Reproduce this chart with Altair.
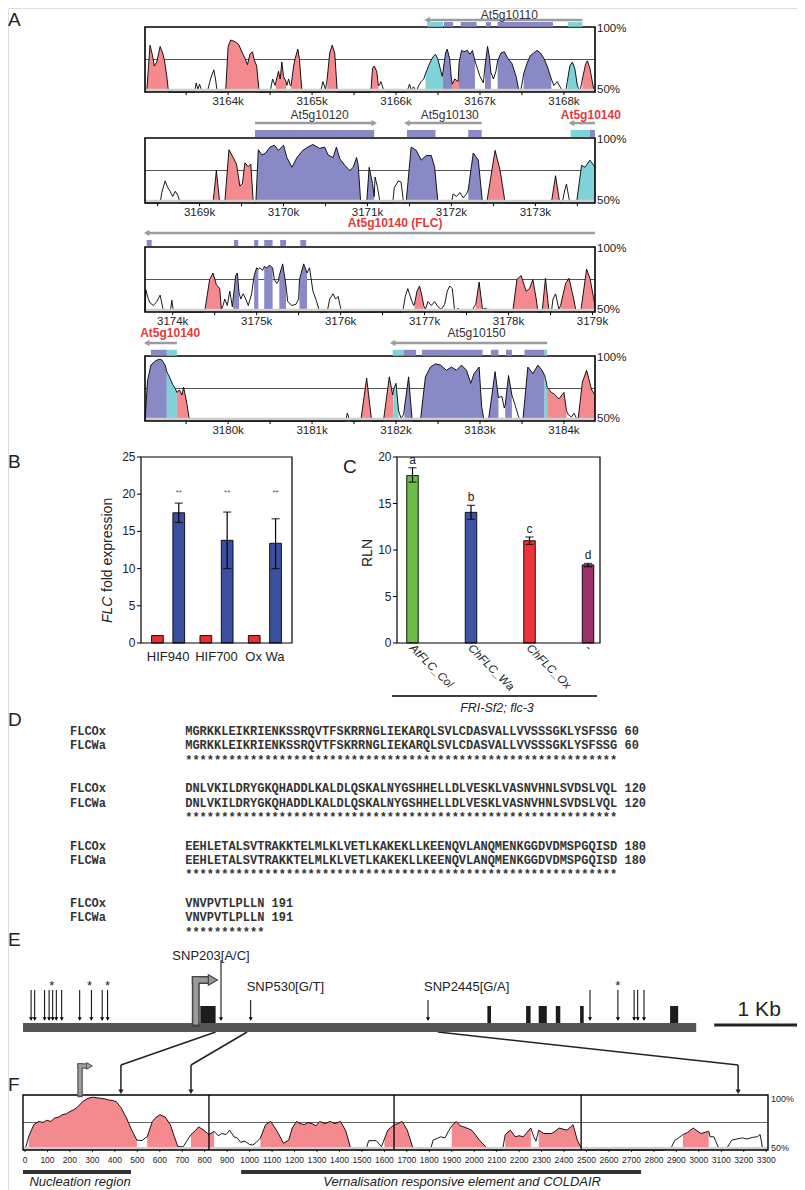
import altair as alt
import pandas as pd
import numpy as np

OX, OY = 8, 8
W, H = 789, 1182
SANS = "Liberation Sans"
NARROW = "Liberation Sans Narrow, Liberation Sans"
MONO = "Liberation Mono"
PINK, BLUE, CYAN = "#F48A8D", "#8989C6", "#7FD3D8"
FILL = {"p": PINK, "b": BLUE, "c": CYAN}
HILITE = "#E4393D"
GENE_GRAY = "#9c9c9c"

# ---------------- Panel A data (kb position, % identity, region class) ----------------
T1_PTS = [
    (3163.01, 50, "n"), (3163.03, 50, "p"), (3163.07, 86, "p"), (3163.10, 78, "p"), (3163.12, 70, "p"), (3163.15, 73, "p"),
    (3163.19, 85, "p"), (3163.22, 80, "p"), (3163.24, 75, "p"), (3163.27, 62, "p"), (3163.29, 50, "p"),
    (3163.60, 50, "n"), (3163.62, 57, "n"), (3163.64, 52, "n"), (3163.66, 56, "n"), (3163.69, 50, "n"), (3163.76, 52, "n"),
    (3163.79, 60, "n"), (3163.83, 67, "n"), (3163.85, 60, "n"), (3163.87, 50, "n"),
    (3163.96, 50, "n"), (3163.97, 50, "p"), (3164.00, 85, "p"), (3164.03, 90, "p"), (3164.07, 89, "p"), (3164.10, 88, "p"),
    (3164.13, 86, "p"), (3164.17, 80, "p"), (3164.20, 76, "p"), (3164.23, 71, "p"), (3164.26, 79, "p"), (3164.29, 81, "p"),
    (3164.31, 75, "p"), (3164.34, 70, "p"), (3164.37, 50, "p"),
    (3164.50, 50, "n"), (3164.53, 60, "n"), (3164.56, 55, "n"), (3164.57, 58, "p"), (3164.60, 66, "p"), (3164.62, 60, "p"),
    (3164.64, 73, "p"), (3164.66, 62, "p"), (3164.69, 58, "p"), (3164.70, 55, "n"), (3164.72, 60, "n"), (3164.74, 55, "n"),
    (3164.75, 55, "p"), (3164.78, 70, "p"), (3164.80, 76, "p"), (3164.83, 83, "p"), (3164.85, 75, "p"), (3164.88, 50, "p"),
    (3165.10, 50, "n"), (3165.13, 58, "n"), (3165.16, 52, "n"), (3165.18, 60, "p"), (3165.21, 80, "p"), (3165.24, 86, "p"),
    (3165.27, 80, "p"), (3165.30, 50, "p"),
    (3165.69, 50, "n"), (3165.70, 50, "p"), (3165.72, 68, "p"), (3165.74, 70, "p"), (3165.77, 66, "p"), (3165.79, 55, "p"),
    (3165.80, 55, "n"), (3165.82, 58, "n"), (3165.85, 52, "n"), (3165.88, 50, "n"),
    (3166.13, 50, "n"), (3166.16, 56, "n"), (3166.18, 52, "n"), (3166.21, 54, "n"), (3166.24, 50, "n"), (3166.27, 55, "n"),
    (3166.30, 58, "n"), (3166.33, 60, "n"),
    (3166.35, 64, "c"), (3166.40, 72, "c"), (3166.44, 77, "c"), (3166.47, 79, "c"), (3166.50, 75, "c"), (3166.55, 62, "c"),
    (3166.56, 66, "b"), (3166.59, 80, "b"), (3166.61, 83, "b"), (3166.64, 75, "b"), (3166.66, 60, "b"),
    (3166.67, 56, "p"), (3166.70, 60, "p"), (3166.74, 58, "p"),
    (3166.75, 72, "b"), (3166.78, 82, "b"), (3166.81, 81, "b"), (3166.85, 82, "b"), (3166.88, 79, "b"), (3166.91, 82, "b"),
    (3166.94, 74, "b"),
    (3166.96, 70, "n"), (3167.00, 62, "n"), (3167.04, 57, "n"),
    (3167.06, 70, "b"), (3167.09, 85, "b"), (3167.11, 78, "b"), (3167.13, 65, "b"),
    (3167.16, 60, "n"), (3167.19, 66, "n"),
    (3167.21, 74, "b"), (3167.25, 80, "b"), (3167.29, 81, "b"), (3167.33, 76, "b"), (3167.38, 72, "b"), (3167.43, 62, "b"),
    (3167.46, 52, "b"),
    (3167.48, 50, "n"), (3167.50, 56, "n"),
    (3167.52, 64, "b"), (3167.56, 72, "b"), (3167.60, 78, "b"), (3167.64, 80, "b"), (3167.68, 82, "b"), (3167.72, 80, "b"),
    (3167.76, 76, "b"), (3167.80, 70, "b"), (3167.85, 60, "b"),
    (3167.88, 55, "n"), (3167.92, 58, "n"), (3167.97, 52, "n"), (3168.02, 50, "n"),
    (3168.04, 58, "c"), (3168.07, 70, "c"), (3168.10, 73, "c"), (3168.13, 68, "c"), (3168.16, 55, "c"),
    (3168.19, 50, "n"),
    (3168.22, 60, "p"), (3168.26, 72, "p"), (3168.28, 74, "p"), (3168.31, 68, "p"), (3168.36, 50, "p"),
]
T2_PTS = [
    (3168.35, 50, "n"), (3168.53, 50, "n"), (3168.55, 58, "n"), (3168.59, 67, "n"), (3168.62, 62, "n"), (3168.65, 59, "n"),
    (3168.68, 55, "n"), (3168.71, 59, "n"), (3168.74, 56, "n"), (3168.77, 50, "n"),
    (3169.15, 50, "n"), (3169.16, 50, "p"), (3169.20, 75, "p"), (3169.24, 50, "p"),
    (3169.29, 50, "n"), (3169.30, 50, "p"), (3169.35, 91, "p"), (3169.40, 85, "p"), (3169.44, 80, "p"), (3169.48, 63, "p"),
    (3169.51, 65, "p"), (3169.54, 81, "p"), (3169.58, 78, "p"), (3169.61, 80, "p"), (3169.64, 50, "p"),
    (3169.66, 50, "n"), (3169.67, 50, "b"), (3169.70, 91, "b"), (3169.74, 87, "b"), (3169.78, 88, "b"), (3169.84, 93, "b"),
    (3169.89, 94.5, "b"), (3169.94, 90.5, "b"), (3170.00, 94.5, "b"), (3170.04, 85, "b"), (3170.10, 77.5, "b"),
    (3170.16, 85, "b"), (3170.23, 90.5, "b"), (3170.29, 93, "b"), (3170.35, 95, "b"), (3170.43, 92, "b"), (3170.49, 93, "b"),
    (3170.53, 87, "b"), (3170.59, 85, "b"), (3170.63, 93, "b"), (3170.67, 84, "b"), (3170.73, 79, "b"), (3170.79, 75, "b"),
    (3170.83, 77.5, "b"), (3170.87, 85, "b"), (3170.89, 79, "b"), (3170.92, 50, "b"),
    (3170.97, 50, "n"), (3170.99, 50, "b"), (3171.02, 77.5, "b"), (3171.06, 65, "b"), (3171.08, 55, "b"),
    (3171.09, 70, "n"), (3171.12, 62, "n"), (3171.15, 50, "n"),
    (3171.30, 50, "n"), (3171.32, 62, "n"), (3171.37, 67, "n"), (3171.40, 66, "n"), (3171.43, 50, "n"),
    (3171.45, 50, "n"), (3171.46, 50, "b"), (3171.52, 93, "b"), (3171.58, 90.5, "b"), (3171.64, 83, "b"), (3171.70, 86.5, "b"),
    (3171.76, 86.5, "b"), (3171.80, 77.5, "b"), (3171.84, 50, "b"),
    (3172.00, 50, "n"), (3172.02, 57, "n"), (3172.06, 55, "n"), (3172.10, 58, "n"), (3172.14, 54, "n"), (3172.18, 57, "n"),
    (3172.20, 60, "b"), (3172.26, 88.5, "b"), (3172.32, 83, "b"), (3172.37, 50, "b"),
    (3172.41, 50, "n"), (3172.42, 50, "p"), (3172.52, 90.5, "p"), (3172.58, 75, "p"), (3172.64, 50, "p"),
    (3173.18, 50, "n"), (3173.19, 50, "p"), (3173.24, 71, "p"), (3173.29, 50, "p"),
    (3173.32, 50, "n"), (3173.35, 60, "n"), (3173.37, 64.5, "n"), (3173.41, 50, "n"),
    (3173.48, 50, "n"), (3173.49, 50, "c"), (3173.55, 79, "c"), (3173.59, 77.5, "c"), (3173.65, 83, "c"), (3173.71, 77.5, "c"),
]
T3_PTS = [
    (3173.67, 50, "n"), (3173.68, 67, "n"), (3173.71, 60, "n"), (3173.73, 57, "n"), (3173.77, 55, "n"), (3173.81, 58, "n"),
    (3173.85, 63, "n"), (3173.87, 57, "n"), (3173.89, 50, "n"), (3173.97, 50, "n"), (3173.99, 59, "n"), (3174.01, 50, "n"),
    (3174.37, 50, "n"), (3174.38, 50, "p"), (3174.44, 75, "p"), (3174.48, 80, "p"), (3174.52, 71, "p"), (3174.56, 68, "p"),
    (3174.58, 52, "p"),
    (3174.60, 55, "n"), (3174.62, 60, "n"), (3174.65, 55, "n"), (3174.68, 66, "n"), (3174.71, 54, "n"),
    (3174.72, 60, "b"), (3174.75, 78, "b"), (3174.77, 80, "b"), (3174.79, 65, "b"),
    (3174.81, 60, "n"), (3174.84, 64, "n"), (3174.87, 60, "n"), (3174.90, 55, "n"), (3174.94, 64, "n"),
    (3174.97, 78, "b"), (3175.00, 84, "b"), (3175.02, 83, "b"),
    (3175.04, 84, "n"), (3175.07, 82, "n"),
    (3175.09, 85, "b"), (3175.12, 84, "b"), (3175.15, 86, "b"), (3175.19, 84, "b"),
    (3175.21, 75, "n"), (3175.24, 72, "n"), (3175.26, 74, "n"),
    (3175.27, 78, "b"), (3175.31, 87, "b"), (3175.35, 70, "b"),
    (3175.37, 58, "n"), (3175.42, 55, "n"), (3175.47, 56, "n"), (3175.50, 60, "n"),
    (3175.51, 75, "b"), (3175.56, 87, "b"), (3175.60, 80, "b"),
    (3175.63, 84, "n"), (3175.67, 66, "n"), (3175.71, 59, "n"), (3175.75, 50, "n"),
    (3175.84, 50, "n"), (3175.87, 60, "n"), (3175.91, 64, "n"), (3175.94, 60, "n"), (3175.97, 62, "n"), (3176.01, 50, "n"),
    (3176.74, 50, "n"), (3176.77, 62, "n"), (3176.80, 68, "n"), (3176.84, 60, "n"), (3176.87, 55, "n"),
    (3176.88, 56, "p"), (3176.91, 66, "p"), (3176.94, 70, "p"), (3176.97, 62, "p"), (3176.99, 55, "p"),
    (3177.01, 52, "n"), (3177.04, 58, "n"), (3177.08, 55, "n"), (3177.12, 58, "n"), (3177.16, 54, "n"), (3177.20, 52, "n"),
    (3177.24, 56, "n"), (3177.27, 66, "n"), (3177.30, 70, "n"), (3177.33, 68, "n"), (3177.36, 50, "n"), (3177.40, 53, "n"),
    (3177.42, 50, "n"),
    (3177.56, 50, "n"), (3177.59, 54, "n"), (3177.61, 56, "p"), (3177.65, 73, "p"), (3177.69, 52, "p"), (3177.72, 53, "n"),
    (3177.78, 51, "n"), (3177.86, 50, "n"),
    (3178.04, 50, "n"), (3178.05, 50, "p"), (3178.10, 75, "p"), (3178.15, 78, "p"), (3178.21, 66, "p"), (3178.25, 68, "p"),
    (3178.29, 75, "p"), (3178.33, 60, "p"), (3178.35, 50, "p"),
    (3178.39, 50, "n"), (3178.40, 50, "p"), (3178.44, 76, "p"), (3178.48, 52, "p"),
    (3178.51, 50, "n"), (3178.53, 60, "n"), (3178.56, 64, "n"), (3178.60, 52, "n"),
    (3178.62, 55, "p"), (3178.68, 72, "p"), (3178.72, 76, "p"), (3178.77, 62, "p"), (3178.80, 52, "p"),
    (3178.83, 50, "n"), (3178.86, 50, "n"),
    (3178.87, 55, "p"), (3178.93, 83, "p"), (3178.97, 76, "p"), (3179.01, 62, "p"), (3179.03, 55, "p"),
]
T4_PTS = [
    (3179.01, 50, "n"), (3179.02, 60, "b"), (3179.04, 81, "b"), (3179.08, 93, "b"), (3179.14, 96.5, "b"), (3179.18, 97.5, "b"),
    (3179.21, 97, "b"), (3179.25, 93, "b"),
    (3179.27, 88, "c"), (3179.30, 84, "c"), (3179.34, 78, "c"), (3179.37, 75, "c"),
    (3179.39, 72, "p"), (3179.42, 74, "p"), (3179.45, 70, "p"), (3179.47, 76, "p"), (3179.51, 63, "p"), (3179.54, 50, "p"),
    (3181.40, 50, "n"), (3181.42, 56, "n"), (3181.44, 52, "n"), (3181.46, 50, "n"),
    (3181.57, 50, "n"), (3181.58, 50, "p"), (3181.65, 83, "p"), (3181.71, 50, "p"),
    (3181.84, 50, "n"), (3181.85, 50, "p"), (3181.92, 84, "p"), (3181.96, 70, "p"),
    (3181.97, 74, "c"), (3182.00, 79, "c"), (3182.03, 58, "c"),
    (3182.06, 52, "n"), (3182.09, 55, "n"),
    (3182.10, 60, "b"), (3182.15, 84, "b"), (3182.19, 52, "b"),
    (3182.20, 50, "n"), (3182.28, 50, "n"),
    (3182.29, 50, "b"), (3182.35, 84, "b"), (3182.41, 91.5, "b"), (3182.47, 94, "b"), (3182.53, 93, "b"), (3182.60, 89, "b"),
    (3182.66, 91.5, "b"), (3182.72, 89, "b"), (3182.78, 93, "b"), (3182.84, 89, "b"), (3182.89, 79, "b"), (3182.93, 86.5, "b"),
    (3182.99, 91.5, "b"), (3183.02, 61, "b"), (3183.05, 50, "b"),
    (3183.09, 50, "n"), (3183.10, 50, "b"), (3183.18, 88, "b"), (3183.22, 68, "b"),
    (3183.26, 69, "n"), (3183.29, 60, "n"),
    (3183.30, 62, "b"), (3183.34, 85, "b"), (3183.38, 70, "b"),
    (3183.42, 62, "n"), (3183.46, 53, "n"), (3183.50, 50, "n"),
    (3183.51, 50, "b"), (3183.57, 91.5, "b"), (3183.63, 86.5, "b"), (3183.69, 93, "b"), (3183.74, 89, "b"),
    (3183.77, 85, "c"), (3183.79, 80, "c"),
    (3183.80, 76, "p"), (3183.85, 72, "p"), (3183.88, 71, "p"), (3183.94, 67, "p"), (3184.00, 72, "p"), (3184.03, 58, "p"),
    (3184.05, 55, "n"), (3184.09, 53, "n"), (3184.12, 56, "n"), (3184.15, 52, "n"),
    (3184.17, 52, "p"), (3184.22, 80, "p"), (3184.27, 89, "p"), (3184.33, 74, "p"), (3184.37, 70, "p"),
]
TRACK_RANGES = [(3163.01, 3168.37), (3168.35, 3173.71), (3173.67, 3179.03), (3179.01, 3184.37)]
T1_TICKS = [3164, 3165, 3166, 3167, 3168]
T2_TICKS = [3169, 3170, 3171, 3172, 3173]
T3_TICKS = [3174, 3175, 3176, 3177, 3178, 3179]
T4_TICKS = [3180, 3181, 3182, 3183, 3184]
# genes: name, start, end, direction, label position
T1_GENES = [("At5g10110", 3166.37, 3168.22, -1, 3167.35)]
T2_GENES = [("At5g10120", 3169.66, 3171.08, 1, 3170.43), ("At5g10130", 3171.47, 3172.36, -1, 3171.98),
            ("At5g10140", 3173.43, 3173.71, -1, 3173.66)]
T3_GENES = [("At5g10140 (FLC)", 3173.69, 3179.03, -1, 3176.65)]
T4_GENES = [("At5g10140", 3179.03, 3179.39, -1, 3179.31), ("At5g10150", 3181.96, 3183.80, -1, 3182.96)]
T1_BLOCKS = [(3166.37, 3166.56, "c"), (3166.57, 3166.68, "b"), (3166.77, 3166.96, "b"), (3167.07, 3167.13, "b"),
             (3167.21, 3167.87, "b"), (3168.05, 3168.22, "c")]
T2_BLOCKS = [(3169.66, 3171.08, "b"), (3171.47, 3171.81, "b"), (3172.20, 3172.36, "b"), (3173.42, 3173.65, "c"),
             (3173.65, 3173.71, "b")]
T3_BLOCKS = [(3173.69, 3173.75, "b"), (3174.73, 3174.78, "b"), (3174.97, 3175.02, "b"), (3175.09, 3175.19, "b"),
             (3175.28, 3175.35, "b"), (3175.52, 3175.59, "b")]
T4_BLOCKS = [(3179.08, 3179.27, "b"), (3179.27, 3179.39, "c"), (3181.96, 3182.09, "c"), (3182.09, 3182.24, "b"),
             (3182.31, 3183.03, "b"), (3183.13, 3183.22, "b"), (3183.31, 3183.38, "b"), (3183.53, 3183.77, "b"),
             (3183.77, 3183.80, "c")]

# ---------------- Panel B ----------------
B_GROUPS = ["HIF940", "HIF700", "Ox Wa"]
B_CTRL = [1.0, 1.0, 1.0]
B_TEST = [17.5, 13.8, 13.4]
B_TEST_LO = [16.2, 10.0, 10.0]
B_TEST_HI = [18.8, 17.6, 16.7]
B_YTICKS = [0, 5, 10, 15, 20, 25]

# ---------------- Panel C ----------------
C_LABELS = ["AtFLC_Col", "ChFLC_Wa", "ChFLC_Ox", "-"]
C_VALUES = [18.0, 14.05, 11.0, 8.4]
C_LO = [17.3, 13.3, 10.6, 8.2]
C_HI = [18.85, 14.8, 11.4, 8.55]
C_LETTERS = ["a", "b", "c", "d"]
C_YTICKS = [0, 5, 10, 15, 20]
C_COLORS = ["#6CBD45", "#3E54A3", "#EE3338", "#9D2F6B"]

# ---------------- Panel D ----------------
D_NAMES = ["FLCOx", "FLCWa"]
D_SEQS = [
    "MGRKKLEIKRIENKSSRQVTFSKRRNGLIEKARQLSVLCDASVALLVVSSSGKLYSFSSG",
    "DNLVKILDRYGKQHADDLKALDLQSKALNYGSHHELLDLVESKLVASNVHNLSVDSLVQL",
    "EEHLETALSVTRAKKTELMLKLVETLKAKEKLLKEENQVLANQMENKGGDVDMSPGQISD",
    "VNVPVTLPLLN",
]
D_ENDS = [60, 120, 180, 191]

# ---------------- Panel E (kb along the locus) ----------------
E_LOCUS = (0.0, 7.48)
E_EXONS = [(1.97, 2.14), (5.16, 5.20), (5.59, 5.64), (5.73, 5.82), (5.92, 5.97), (6.19, 6.23), (7.19, 7.28)]
E_VARIANTS = [0.09, 0.13, 0.24, 0.29, 0.33, 0.37, 0.43, 0.63, 0.76, 0.88, 0.94, 6.30, 6.61, 6.79, 6.83, 6.90]
E_STARS = [0.32, 0.74, 0.94, 6.61]
E_SNPS = [("SNP203[A/C]", 2.20), ("SNP530[G/T]", 2.53), ("SNP2445[G/A]", 4.50)]
E_TSS = 1.92
E_SCALEBAR = (7.68, 8.68)
E_ZOOM_FROM = [2.14, 2.49, 4.61]

# ---------------- Panel F (bp, % identity, class) ----------------
F_PTS = [
    (0, 50, "n"), (16, 62, "p"), (39, 73, "p"), (62, 76, "p"), (80, 75, "p"), (96, 77, "p"), (115, 76, "p"), (131, 79, "p"),
    (150, 80, "p"), (165, 82, "p"), (185, 83, "p"), (200, 85, "p"), (220, 87, "p"), (234, 89, "p"), (257, 94, "p"),
    (280, 97, "p"), (303, 98, "p"), (320, 97.5, "p"), (337, 97, "p"), (355, 96.5, "p"), (372, 95.5, "p"), (390, 95, "p"),
    (406, 94, "p"), (429, 88, "p"), (452, 79, "p"), (475, 68, "p"), (498, 59, "p"),
    (521, 58.5, "n"), (535, 61, "n"),
    (544, 62, "p"), (567, 76, "p"), (585, 80, "p"), (601, 82, "p"), (624, 80, "p"), (647, 73, "p"), (665, 62, "p"), (681, 53, "p"),
    (704, 53, "n"), (720, 58, "n"),
    (739, 64, "p"), (760, 68, "p"), (773, 71, "p"), (796, 68, "p"), (819, 64, "p"), (842, 67, "p"),
    (860, 63, "n"), (876, 65, "n"), (895, 64, "n"), (911, 68, "n"), (930, 62, "n"), (945, 61, "n"), (960, 57, "n"),
    (979, 58, "n"), (1000, 55, "n"), (1014, 54.5, "n"), (1030, 57, "n"),
    (1048, 61, "p"), (1071, 73, "p"), (1094, 76, "p"), (1110, 71, "p"), (1128, 65, "p"), (1151, 56, "p"), (1174, 59, "p"),
    (1190, 70, "p"), (1209, 76, "p"), (1225, 74, "p"), (1243, 73, "p"), (1260, 75, "p"), (1278, 74, "p"), (1295, 72, "p"),
    (1312, 76, "p"), (1335, 74, "p"), (1358, 76, "p"), (1380, 74, "p"), (1404, 76, "p"), (1427, 68, "p"), (1450, 51.5, "p"),
    (1472, 50, "n"), (1518, 50, "n"), (1530, 58.5, "n"), (1564, 58.5, "n"), (1587, 53, "n"),
    (1600, 60, "p"), (1615, 68, "p"), (1644, 73, "p"), (1660, 74, "p"), (1679, 76, "p"), (1702, 68, "p"), (1725, 53, "p"),
    (1748, 50, "n"), (1805, 50, "n"), (1817, 59, "n"), (1851, 62, "n"), (1870, 61, "n"), (1885, 67, "n"),
    (1900, 72, "p"), (1920, 76, "p"), (1937, 72, "p"), (1954, 71, "p"), (1989, 68, "p"), (2005, 64, "p"), (2023, 59, "p"),
    (2057, 51.5, "p"),
    (2080, 50, "n"), (2126, 50, "n"),
    (2138, 64, "p"), (2161, 68, "p"), (2183, 62, "p"), (2200, 63, "p"), (2218, 62, "p"), (2252, 70, "p"),
    (2265, 62, "n"), (2275, 58, "n"),
    (2287, 68, "p"), (2310, 65, "p"), (2344, 65, "p"), (2360, 67, "p"), (2378, 70, "p"), (2413, 68, "p"), (2440, 73, "p"),
    (2459, 59, "p"), (2477, 51.5, "p"),
    (2493, 50, "n"), (2545, 50, "n"), (2550, 52, "n"), (2560, 50, "n"), (2845, 50, "n"), (2849, 52, "n"), (2872, 50, "n"),
    (2894, 59, "n"), (2910, 61, "n"),
    (2929, 64, "p"), (2950, 66, "p"), (2975, 70, "p"), (3009, 65, "p"), (3044, 67, "p"),
    (3050, 62, "n"), (3067, 62, "n"), (3089, 51.5, "n"), (3124, 51.5, "n"), (3147, 59, "n"), (3170, 60, "n"), (3193, 61, "n"),
    (3215, 60, "n"), (3239, 61.5, "n"), (3260, 62, "n"), (3273, 64, "n"), (3284, 51.5, "n"), (3300, 50, "n"),
]
F_DOM = (-9, 3308)
F_TICKS = list(range(0, 3301, 100))
F_DIVIDERS = [819, 1643, 2476]
F_TSS = 245
F_ZOOM_TO = [427, 739, 3175]
F_REGIONS = [("Nucleation region", -9, 472, 245), ("Vernalisation responsive element and COLDAIR", 962, 2743, 1946)]


# ---------------- helpers ----------------
def qs(d0, d1, p0, p1, off):
    return alt.Scale(domain=[d0, d1], range=[p0 - off, p1 - off], zero=False, nice=False)


def one():
    return alt.Chart(pd.DataFrame({"k": [0]}))


def vx(p):
    return alt.value(p - OX)


def vy(p):
    return alt.value(p - OY)


def fill_runs(pts):
    rows, seg, i, n = [], 0, 0, len(pts)
    while i < n:
        c = pts[i][2]
        if c == "n":
            i += 1
            continue
        j = i
        while j + 1 < n and pts[j + 1][2] == c:
            j += 1
        idx = list(range(i, j + 1))
        if j + 1 < n and pts[j + 1][2] != "n":
            idx.append(j + 1)
        for k in idx:
            rows.append({"x": pts[k][0], "y": pts[k][1], "col": FILL[c], "seg": seg})
        seg += 1
        i = j + 1
    return pd.DataFrame(rows)


def profile_layers(pts, xs, ys, x0, x1, mid_color):
    XD = lambda v: alt.XDatum(v, scale=xs, axis=None)
    YD = lambda v: alt.YDatum(v, scale=ys, axis=None)
    df = pd.DataFrame(pts, columns=["x", "y", "c"])
    adf = fill_runs(pts)
    return [
        one().mark_rule(color=mid_color, strokeWidth=1).encode(x=XD(x0), x2=alt.X2Datum(x1), y=YD(75)),
        alt.Chart(adf).mark_area(opacity=1).encode(
            x=alt.X("x:Q", scale=xs, axis=None),
            y=alt.Y("y:Q", scale=ys, axis=None, stack=None),
            y2=alt.Y2Datum(50),
            color=alt.Color("col:N", scale=None),
            detail="seg:N"),
        alt.Chart(df).mark_line(color="black", strokeWidth=0.9).encode(
            x=alt.X("x:Q", scale=xs, axis=None), y=alt.Y("y:Q", scale=ys, axis=None)),
        one().mark_rule(color="#cfcfcf", strokeWidth=3).encode(x=XD(x0), x2=alt.X2Datum(x1), y=YD(51.3)),
    ]


def track(pts, rng, top, genes, blocks, ticks, lv):
    kb0, kb1 = rng
    xs = qs(kb0, kb1, 145, 595, OX)
    ys = qs(50, 100, top + 65, top, OY)
    XD = lambda v: alt.XDatum(v, scale=xs, axis=None)
    YD = lambda v: alt.YDatum(v, scale=ys, axis=None)
    L = profile_layers(pts, xs, ys, kb0, kb1, "#555555")
    L.append(one().mark_rect(fillOpacity=0, stroke="black", strokeWidth=1.6).encode(
        x=XD(kb0), x2=alt.X2Datum(kb1), y=YD(50), y2=alt.Y2Datum(100)))
    minor = pd.DataFrame({"t": [k / 2 for k in range(int(np.ceil(kb0 * 2)), int(np.floor(kb1 * 2)) + 1)]})
    L.append(alt.Chart(minor).mark_rule(color="black", strokeWidth=1).encode(
        x=alt.X("t:Q", scale=xs, axis=None), y=YD(50), y2=alt.Y2Datum(47.6)))
    tdf = pd.DataFrame({"t": ticks, "lab": [f"{t}k" for t in ticks]})
    L.append(alt.Chart(tdf).mark_text(font=SANS, fontSize=11.5, color="#222", baseline="middle").encode(
        x=alt.X("t:Q", scale=xs, axis=None), y=YD(42.6), text="lab:N"))
    L.append(one().mark_text(font=SANS, fontSize=11.5, color="#222", align="left", baseline="middle", dx=2, dy=2,
                             text="100%").encode(x=XD(kb1), y=YD(100)))
    L.append(one().mark_text(font=SANS, fontSize=11.5, color="#222", align="left", baseline="middle", dx=2, dy=-2,
                             text="50%").encode(x=XD(kb1), y=YD(50)))
    g = pd.DataFrame(genes, columns=["name", "s", "e", "d", "lx"])
    g["hx"] = np.where(g["d"] < 0, g["s"], g["e"])
    g["shp"] = np.where(g["d"] < 0, "triangle-left", "triangle-right")
    g["hi"] = g["name"].str.startswith("At5g10140")
    L.append(alt.Chart(g).mark_rule(color=GENE_GRAY, strokeWidth=2.5).encode(
        x=alt.X("s:Q", scale=xs, axis=None), x2="e:Q", y=YD(lv[1])))
    L.append(alt.Chart(g).mark_point(filled=True, color=GENE_GRAY, size=40, opacity=1).encode(
        x=alt.X("hx:Q", scale=xs, axis=None), y=YD(lv[1]), shape=alt.Shape("shp:N", scale=None)))
    gn = g[~g["hi"]]
    gh = g[g["hi"]]
    if len(gn):
        L.append(alt.Chart(gn).mark_text(font=SANS, fontSize=12, color="#333", baseline="middle").encode(
            x=alt.X("lx:Q", scale=xs, axis=None), y=YD(lv[0]), text="name:N"))
    if len(gh):
        L.append(alt.Chart(gh).mark_text(font=SANS, fontSize=12, fontWeight="bold", color=HILITE,
                                         baseline="middle").encode(
            x=alt.X("lx:Q", scale=xs, axis=None), y=YD(lv[0]), text="name:N"))
    b = pd.DataFrame(blocks, columns=["s", "e", "c"])
    b["col"] = b["c"].map(FILL)
    L.append(alt.Chart(b).mark_rect().encode(
        x=alt.X("s:Q", scale=xs, axis=None), x2="e:Q", y=YD(lv[2]), y2=alt.Y2Datum(lv[3]),
        color=alt.Color("col:N", scale=None)))
    return alt.layer(*L)


# ---------------- Panel A ----------------
A1 = track(T1_PTS, TRACK_RANGES[0], 27, T1_GENES, T1_BLOCKS, T1_TICKS, (109.6, 105.4, 100.2, 103.8))
A2 = track(T2_PTS, TRACK_RANGES[1], 138, T2_GENES, T2_BLOCKS, T2_TICKS, (117.7, 111.5, 100.8, 106.2))
A3 = track(T3_PTS, TRACK_RANGES[2], 247, T3_GENES, T3_BLOCKS, T3_TICKS, (118.5, 110.8, 100.8, 105.4))
A4 = track(T4_PTS, TRACK_RANGES[3], 356, T4_GENES, T4_BLOCKS, T4_TICKS, (117.7, 110.0, 100.2, 104.8))

# ---------------- Panel B ----------------
bxs = alt.Scale(domain=B_GROUPS, range=[141 - OX, 292 - OX], paddingInner=0, paddingOuter=0.06)
bos = alt.Scale(domain=["ctrl", "test"], paddingInner=0.45, paddingOuter=0.36)
bys = qs(0, 25, 643, 457, OY)
bdf = pd.DataFrame(
    [{"g": g, "s": "ctrl", "v": v, "col": "#E8302E"} for g, v in zip(B_GROUPS, B_CTRL)] +
    [{"g": g, "s": "test", "v": v, "col": "#3C50A2"} for g, v in zip(B_GROUPS, B_TEST)])
bedf = pd.DataFrame({"g": B_GROUPS, "s": ["test"] * 3, "lo": B_TEST_LO, "hi": B_TEST_HI})
BX = alt.X("g:N", scale=bxs, axis=None, sort=B_GROUPS)
BXO = alt.XOffset("s:N", scale=bos, sort=["ctrl", "test"])
BYD = lambda v: alt.YDatum(v, scale=bys, axis=None)
btk = pd.DataFrame({"t": B_YTICKS})
PB = alt.layer(
    alt.Chart(bdf).mark_bar(stroke="black", strokeWidth=0.9).encode(
        x=BX, xOffset=BXO, y=alt.Y("v:Q", scale=bys, axis=None), color=alt.Color("col:N", scale=None)),
    alt.Chart(bedf).mark_rule(color="black", strokeWidth=1.2).encode(
        x=BX, xOffset=BXO, y=alt.Y("lo:Q", scale=bys, axis=None), y2="hi:Q"),
    alt.Chart(bedf).mark_tick(color="black", size=8, thickness=1.3).encode(
        x=BX, xOffset=BXO, y=alt.Y("lo:Q", scale=bys, axis=None)),
    alt.Chart(bedf).mark_tick(color="black", size=8, thickness=1.3).encode(
        x=BX, xOffset=BXO, y=alt.Y("hi:Q", scale=bys, axis=None)),
    alt.Chart(bedf).mark_text(font=SANS, fontSize=8, color="#555", baseline="middle", text="**").encode(
        x=BX, xOffset=BXO, y=BYD(20.1)),
    alt.Chart(pd.DataFrame({"g": B_GROUPS})).mark_text(font=SANS, fontSize=13, color="#222",
                                                       baseline="middle").encode(
        x=BX, y=BYD(-1.9), text="g:N"),
    one().mark_rect(fillOpacity=0, stroke="black", strokeWidth=1.2).encode(
        x=vx(141), x2=vx(292), y=BYD(0), y2=alt.Y2Datum(25)),
    alt.Chart(btk).mark_rule(color="black", strokeWidth=1).encode(
        x=vx(137), x2=vx(141), y=alt.Y("t:Q", scale=bys, axis=None)),
    alt.Chart(btk).mark_text(font=SANS, fontSize=12, color="#222", align="right", baseline="middle").encode(
        x=vx(135.5), y=alt.Y("t:Q", scale=bys, axis=None), text="t:N"),
    one().mark_text(font=SANS, fontSize=14, fontStyle="italic", color="#222", angle=270, align="left",
                    baseline="middle", text="FLC").encode(x=vx(108), y=vy(623)),
    one().mark_text(font=SANS, fontSize=14, color="#222", angle=270, align="left", baseline="middle",
                    text="fold expression").encode(x=vx(108), y=vy(592)),
)

# ---------------- Panel C ----------------
cxs = alt.Scale(domain=C_LABELS, range=[383.25 - OX, 617.25 - OX], paddingInner=0, paddingOuter=0)
cys = qs(0, 20, 643, 457, OY)
cdf = pd.DataFrame({"lab": C_LABELS, "v": C_VALUES, "lo": C_LO, "hi": C_HI, "let": C_LETTERS, "col": C_COLORS})
CX = alt.X("lab:N", scale=cxs, axis=None, sort=C_LABELS)
CYD = lambda v: alt.YDatum(v, scale=cys, axis=None)
ctk = pd.DataFrame({"t": C_YTICKS})
PC = alt.layer(
    alt.Chart(cdf).mark_bar(width=11.5, stroke="black", strokeWidth=0.9).encode(
        x=CX, y=alt.Y("v:Q", scale=cys, axis=None), color=alt.Color("col:N", scale=None)),
    alt.Chart(cdf).mark_rule(color="black", strokeWidth=1.2).encode(
        x=CX, y=alt.Y("lo:Q", scale=cys, axis=None), y2="hi:Q"),
    alt.Chart(cdf).mark_tick(color="black", size=8, thickness=1.3).encode(
        x=CX, y=alt.Y("lo:Q", scale=cys, axis=None)),
    alt.Chart(cdf).mark_tick(color="black", size=8, thickness=1.3).encode(
        x=CX, y=alt.Y("hi:Q", scale=cys, axis=None)),
    alt.Chart(cdf).mark_text(font=SANS, fontSize=12, color="#222", baseline="bottom", dy=-1).encode(
        x=CX, y=alt.Y("hi:Q", scale=cys, axis=None), text="let:N"),
    alt.Chart(cdf).mark_text(font=SANS, fontSize=11.5, fontStyle="italic", color="#222", angle=45, align="left",
                             baseline="middle", dx=-2).encode(
        x=CX, y=CYD(-0.55), text="lab:N"),
    one().mark_rect(fillOpacity=0, stroke="black", strokeWidth=1.2).encode(
        x=vx(397), x2=vx(600), y=CYD(0), y2=alt.Y2Datum(20)),
    alt.Chart(ctk).mark_rule(color="black", strokeWidth=1).encode(
        x=vx(393), x2=vx(397), y=alt.Y("t:Q", scale=cys, axis=None)),
    alt.Chart(ctk).mark_text(font=SANS, fontSize=12, color="#222", align="right", baseline="middle").encode(
        x=vx(391.5), y=alt.Y("t:Q", scale=cys, axis=None), text="t:N"),
    one().mark_text(font=SANS, fontSize=14, color="#222", angle=270, baseline="middle", text="RLN").encode(
        x=vx(368), y=vy(553)),
    one().mark_rule(color="black", strokeWidth=1.5).encode(x=vx(392), x2=vx(597), y=CYD(-5.7)),
    one().mark_text(font=SANS, fontSize=12.5, fontStyle="italic", color="#222", baseline="middle",
                    text="FRI-Sf2; flc-3").encode(x=vx(497), y=CYD(-7.0)),
)

# ---------------- Panel D ----------------
drows = []
for bi, (seq, end) in enumerate(zip(D_SEQS, D_ENDS)):
    for ni, name in enumerate(D_NAMES):
        drows.append({"line": bi * 4 + ni, "col": 0, "t": name})
        drows.append({"line": bi * 4 + ni, "col": 16, "t": f"{seq} {end}"})
    drows.append({"line": bi * 4 + 2, "col": 16, "t": "*" * len(seq)})
ddf = pd.DataFrame(drows)
dxs = qs(0, 100, 70, 790, OX)
dys = qs(0, 14, 731, 931.7, OY)
PD = alt.Chart(ddf).mark_text(font=MONO, fontSize=12, fontWeight="bold", color="#333", align="left",
                              baseline="middle").encode(
    x=alt.X("col:Q", scale=dxs, axis=None), y=alt.Y("line:Q", scale=dys, axis=None), text="t:N")

# ---------------- Panel E ----------------
exs = qs(0, 8.7, 23, 23 + 8.7 * 90, OX)
eys = qs(0, 100, 1035, 935, OY)
EX = lambda f: alt.X(f, scale=exs, axis=None)
EXD = lambda v: alt.XDatum(v, scale=exs, axis=None)
EYD = lambda v: alt.YDatum(v, scale=eys, axis=None)
f_px_per_bp = (768 - 23) / (F_DOM[1] - F_DOM[0])
zoom_to_kb = [((23 + (bp - F_DOM[0]) * f_px_per_bp) - 23) / 90 for bp in F_ZOOM_TO]
zdf = pd.DataFrame({"a": E_ZOOM_FROM, "b": zoom_to_kb})
exdf = pd.DataFrame(E_EXONS, columns=["s", "e"])
vdf = pd.DataFrame({"x": E_VARIANTS})
sdf = pd.DataFrame({"x": E_STARS})
snp = pd.DataFrame(E_SNPS, columns=["name", "x"])
snp_main = snp.iloc[[0]]
snp_rest = snp.iloc[1:]
E_layers = [
    alt.Chart(zdf).mark_rule(color="#222", strokeWidth=1.5).encode(
        x=EX("a:Q"), x2="b:Q", y=EYD(3), y2=alt.Y2Datum(-30)),
    one().mark_rect(color="#565656").encode(x=EXD(E_LOCUS[0]), x2=alt.X2Datum(E_LOCUS[1]), y=EYD(3),
                                             y2=alt.Y2Datum(12)),
    alt.Chart(exdf).mark_rect(color="#1c1c1c").encode(x=EX("s:Q"), x2="e:Q", y=EYD(12), y2=alt.Y2Datum(29)),
    alt.Chart(vdf).mark_rule(color="black", strokeWidth=1).encode(x=EX("x:Q"), y=EYD(45), y2=alt.Y2Datum(15)),
    alt.Chart(vdf).mark_point(shape="triangle-down", filled=True, color="black", size=16, opacity=1).encode(
        x=EX("x:Q"), y=EYD(16)),
    alt.Chart(sdf).mark_text(font=SANS, fontSize=13, color="#222", baseline="middle", text="*").encode(
        x=EX("x:Q"), y=EYD(49)),
    alt.Chart(snp_main).mark_rule(color="black", strokeWidth=1).encode(x=EX("x:Q"), y=EYD(75), y2=alt.Y2Datum(15)),
    alt.Chart(snp_rest).mark_rule(color="black", strokeWidth=1).encode(x=EX("x:Q"), y=EYD(35), y2=alt.Y2Datum(15)),
    alt.Chart(snp).mark_point(shape="triangle-down", filled=True, color="black", size=16, opacity=1).encode(
        x=EX("x:Q"), y=EYD(16)),
    alt.Chart(snp_main).mark_text(font=SANS, fontSize=13, color="#222", baseline="middle", dx=-10).encode(
        x=EX("x:Q"), y=EYD(79), text="name:N"),
    alt.Chart(snp_rest).mark_text(font=SANS, fontSize=13, color="#222", align="left", baseline="middle",
                                  dx=-4).encode(x=EX("x:Q"), y=EYD(48), text="name:N"),
    one().mark_rule(color="#444", strokeWidth=8, strokeCap="square").encode(x=EXD(E_TSS), y=EYD(12),
                                                                              y2=alt.Y2Datum(55)),
    one().mark_rule(color="#444", strokeWidth=8, strokeCap="square").encode(x=EXD(E_TSS), x2=alt.X2Datum(E_TSS + 0.13),
                                                                              y=EYD(55)),
    one().mark_rule(color="#9a9a9a", strokeWidth=5, strokeCap="square").encode(x=EXD(E_TSS), y=EYD(13),
                                                                                 y2=alt.Y2Datum(55)),
    one().mark_rule(color="#9a9a9a", strokeWidth=5, strokeCap="square").encode(x=EXD(E_TSS),
                                                                                 x2=alt.X2Datum(E_TSS + 0.13),
                                                                                 y=EYD(55)),
    one().mark_point(shape="triangle-right", filled=True, color="#9a9a9a", stroke="#444", strokeWidth=1.2,
                     size=110, opacity=1).encode(x=EXD(E_TSS + 0.19), y=EYD(55)),
    one().mark_rule(color="#222", strokeWidth=3).encode(x=EXD(E_SCALEBAR[0]), x2=alt.X2Datum(E_SCALEBAR[1]),
                                                         y=EYD(10)),
    one().mark_text(font=SANS, fontSize=21, color="#222", baseline="middle", text="1 Kb").encode(
        x=EXD((E_SCALEBAR[0] + E_SCALEBAR[1]) / 2), y=EYD(25)),
]
PE = alt.layer(*E_layers)

# ---------------- Panel F ----------------
fxs = qs(F_DOM[0], F_DOM[1], 23, 768, OX)
fys = qs(50, 100, 1150, 1095, OY)
FXD = lambda v: alt.XDatum(v, scale=fxs, axis=None)
FYD = lambda v: alt.YDatum(v, scale=fys, axis=None)
FX = lambda f: alt.X(f, scale=fxs, axis=None)
F_layers = profile_layers(F_PTS, fxs, fys, F_DOM[0], F_DOM[1], "#666666")
divdf = pd.DataFrame({"x": F_DIVIDERS})
ftk = pd.DataFrame({"t": F_TICKS})
regdf = pd.DataFrame(F_REGIONS, columns=["name", "s", "e", "cx"])
zto = pd.DataFrame({"x": F_ZOOM_TO})
F_layers += [
    alt.Chart(divdf).mark_rule(color="black", strokeWidth=1.3).encode(x=FX("x:Q"), y=FYD(50), y2=alt.Y2Datum(100)),
    one().mark_rect(fillOpacity=0, stroke="black", strokeWidth=1.4).encode(
        x=FXD(F_DOM[0]), x2=alt.X2Datum(F_DOM[1]), y=FYD(50), y2=alt.Y2Datum(100)),
    alt.Chart(ftk).mark_rule(color="black", strokeWidth=0.8).encode(x=FX("t:Q"), y=FYD(50), y2=alt.Y2Datum(48)),
    alt.Chart(ftk).mark_text(font=NARROW, fontSize=8.5, color="#222", baseline="middle").encode(
        x=FX("t:Q"), y=FYD(40.9), text="t:N"),
    one().mark_text(font=NARROW, fontSize=9, color="#222", align="left", baseline="middle", dx=3, dy=4,
                    text="100%").encode(x=FXD(F_DOM[1]), y=FYD(100)),
    one().mark_text(font=NARROW, fontSize=9, color="#222", align="left", baseline="middle", dx=3, dy=-2,
                    text="50%").encode(x=FXD(F_DOM[1]), y=FYD(50)),
    alt.Chart(regdf).mark_rule(color="#333", strokeWidth=4).encode(x=FX("s:Q"), x2="e:Q", y=FYD(30)),
    alt.Chart(regdf).mark_text(font=SANS, fontSize=13, fontStyle="italic", color="#222", baseline="middle").encode(
        x=FX("cx:Q"), y=FYD(21.3), text="name:N"),
    alt.Chart(zto).mark_rule(color="#222", strokeWidth=1.5).encode(x=FX("x:Q"), y=FYD(127.3), y2=alt.Y2Datum(103)),
    alt.Chart(zto).mark_point(shape="triangle-down", filled=True, color="#222", size=28, opacity=1).encode(
        x=FX("x:Q"), y=FYD(103)),
    one().mark_rule(color="#555", strokeWidth=5.5, strokeCap="square").encode(x=FXD(F_TSS), y=FYD(100.5),
                                                                                y2=alt.Y2Datum(126.4)),
    one().mark_rule(color="#555", strokeWidth=5.5, strokeCap="square").encode(x=FXD(F_TSS),
                                                                                x2=alt.X2Datum(F_TSS + 25),
                                                                                y=FYD(126.4)),
    one().mark_rule(color="#a0a0a0", strokeWidth=3, strokeCap="square").encode(x=FXD(F_TSS), y=FYD(101),
                                                                                 y2=alt.Y2Datum(126.4)),
    one().mark_rule(color="#a0a0a0", strokeWidth=3, strokeCap="square").encode(x=FXD(F_TSS),
                                                                                 x2=alt.X2Datum(F_TSS + 25),
                                                                                 y=FYD(126.4)),
    one().mark_point(shape="triangle-right", filled=True, color="#a0a0a0", stroke="#555", strokeWidth=1,
                     size=45, opacity=1).encode(x=FXD(F_TSS + 42), y=FYD(126.4)),
]
PF = alt.layer(*F_layers)

# ---------------- panel letters ----------------
LET = [("A", 20), ("B", 462), ("D", 720), ("E", 940), ("F", 1085)]
letter_layers = [one().mark_text(font=SANS, fontSize=19, color="#222", align="left", baseline="middle",
                                 text=t).encode(x=vx(8), y=vy(y)) for t, y in LET]
letter_layers.append(one().mark_text(font=SANS, fontSize=19, color="#222", align="left", baseline="middle",
                                     text="C").encode(x=vx(343), y=vy(467)))
PL = alt.layer(*letter_layers)

chart = alt.layer(A1, A2, A3, A4, PB, PC, PD, PE, PF, PL).resolve_scale(
    x="independent", y="independent", color="independent", shape="independent", xOffset="independent"
).properties(
    width=W, height=H, padding=0, autosize=alt.AutoSizeParams(type="none")
).configure_view(stroke=None).configure(background="white")

chart.save("out.html", embed_options={"renderer": "svg", "actions": False})
